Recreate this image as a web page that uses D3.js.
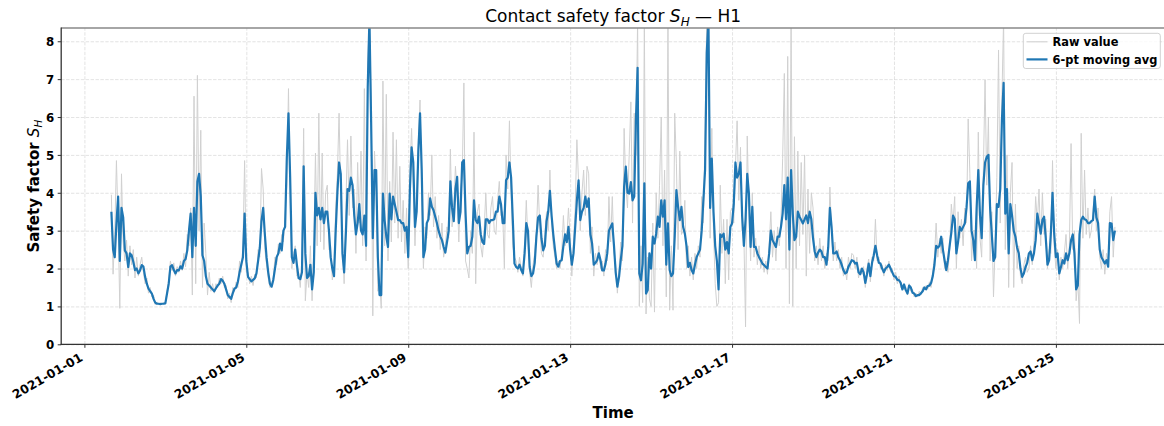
<!DOCTYPE html>
<html><head><meta charset="utf-8">
<script src="https://cdn.jsdelivr.net/npm/d3@7"></script>
<style>body{margin:0;background:#fff} svg{display:block}</style>
</head><body>
<svg id="chart" width="1164" height="426"></svg>
<script>
// ---------------- data (hourly, from 2021-01-01 16:00) ----------------
const seriesStart = "2021-01-01T16:00:00Z";
const stepHours = 1;

const rawValues = [
 3.95,1.85,2.9,4.85,3.2,0.95,4.5,2.7,
 2.2,2.75,1.8,2.6,2.1,2.5,1.75,2.3,1.8,2.1,2.3,1.9, 1.6,1.75,1.35,1.5,1.25,1.3,1.05,1.12,1.05,1.09,1.06,1.1,
 1.1,1.4,1.7,2.2,1.95,2.15,1.8,2.05,1.9,2.2,1.95,2.4, 2.05,2.9,2.6,3.6,1.3,6.55,1.6,7.1,3.0,5.65,1.5,3.2,
 2.4,1.3,1.9,1.4,1.6,1.35,1.6,1.5,1.75,1.6,1.8,1.5, 1.55,1.2,1.35,1.1,1.5,1.4,1.65,1.5,2.2,1.9,2.6,4.85,
 1.9,1.9,1.6,1.8,1.55,1.85,1.75,2.5,2.3,4.64,4.1,2.5, 2.1,1.75,1.5,1.6,1.75,2.3,2.1,2.65,2.4,2.9,2.7,3.4,
 4.2,6.75,3.8,2.0,2.4,2.6,1.8,1.9,1.5,2.3,5.7,1.15, 1.9,1.5,2.6,1.15,2.5,5.05,2.6,6.1,2.7,5.05,2.5,4.0,
 4.2,2.5,2.6,1.7,2.0,3.6,4.5,6.1,3.9,2.8,1.6,3.6, 5.4,3.4,5.5,3.6,4.1,2.4,4.8,3.2,5.1,2.6,6.75,2.2,
 7.5,8.6,6.5,0.75,5.1,4.0,1.4,1.7,0.95,6.95,2.6,6.6, 2.2,4.3,2.7,5.6,3.2,5.4,2.8,4.7,2.7,3.8,2.4,3.6,
 2.0,4.6,5.7,4.2,2.6,3.9,5.4,6.45,4.0,2.0,3.1,2.8, 4.0,3.4,5.0,3.1,3.9,2.8,3.4,2.5,3.2,2.3,2.6,3.1,
 2.8,5.15,3.1,3.6,4.7,4.0,2.7,4.1,4.4,6.9,2.2,2.0, 1.75,3.0,2.4,5.6,1.6,3.5,3.7,2.6,2.3,3.0,4.0,2.9,
 2.8,3.6,3.9,3.0,2.9,3.8,4.3,3.4,3.5,2.0,5.0,4.1, 5.9,4.0,2.6,2.3,2.2,1.9,2.3,2.0,1.8,2.6,3.8,2.7,
 1.9,1.5,2.1,2.4,3.0,4.2,3.1,2.4,2.3,2.9,3.5,3.0, 4.6,3.2,2.6,2.3,2.0,2.2,2.0,2.4,3.4,2.6,2.8,3.6,
 2.8,1.8,2.7,3.6,5.4,4.3,3.0,4.0,4.6,3.4,4.7,4.5, 2.4,3.1,1.8,2.4,2.1,2.6,2.0,2.2,1.8,2.5,2.2,3.9,
 2.7,3.9,2.4,2.1,1.35,2.0,2.7,2.2,5.7,4.2,3.6,5.0, 6.4,3.2,6.1,5.0,8.6,1.0,2.6,1.1,8.6,0.8,2.3,1.2,
 1.0,3.2,0.85,4.0,2.8,4.2,6.0,2.6,4.6,1.25,8.6,0.9, 2.6,0.9,6.1,4.78,2.5,5.1,2.9,3.0,3.8,2.0,2.6,1.8,
 2.3,1.7,2.4,2.0,2.6,2.3,3.9,3.2,5.66,8.6,8.6,2.8, 5.7,3.0,1.6,1.0,1.1,4.2,2.4,3.3,1.6,3.3,1.7,3.5,
 3.6,3.2,4.7,5.9,3.8,5.2,3.0,2.9,0.46,5.5,3.5,2.2, 4.0,2.3,2.8,2.1,2.6,2.0,2.3,1.9,2.2,1.85,2.6,3.5,
 2.3,3.0,2.2,3.1,2.6,3.3,4.9,7.15,2.0,7.6,1.07,8.6, 1.0,5.48,2.0,5.1,2.6,4.8,2.9,5.0,1.8,4.1,2.4,4.0,
 3.6,2.2,2.6,2.1,2.8,2.2,2.6,2.0,2.4,2.2,4.15,3.0, 2.2,2.7,2.2,2.5,2.0,2.3,1.8,2.0,1.7,2.3,2.0,2.4,
 2.35,2.0,2.3,1.75,2.0,1.85,2.05,1.5,2.0,2.25,1.65,2.3, 2.2,3.3,2.2,2.3,2.0,2.1,1.8,2.1,1.95,2.2,1.9,2.0,
 1.7,1.9,1.6,1.8,1.5,1.55,1.45,1.5,1.3,1.6,1.4,1.45, 1.25,1.35,1.25,1.4,1.3,1.5,1.45,1.55,1.45,1.65,1.5,1.9,
 2.3,3.2,2.3,2.8,2.4,2.8,2.0,2.2,1.9,2.5,3.7,3.2, 3.9,2.0,3.5,2.8,3.3,2.6,3.6,3.2,5.95,4.5,2.2,3.0,
 3.0,2.0,5.6,2.8,2.3,4.6,6.98,4.2,6.0,2.2,3.5,1.25, 2.6,4.4,7.77,3.2,6.5,8.6,2.5,5.0,1.5,4.0,4.8,1.5,
 3.7,2.0,2.6,1.8,1.6,2.1,2.3,1.9,2.0,2.6,2.1,2.7, 3.9,3.2,4.1,2.6,4.0,2.9,3.3,2.0,2.5,2.4,4.85,2.6,
 2.0,2.5,1.7,2.3,2.0,2.4,2.9,2.0,2.6,5.3,2.5,3.0, 1.15,1.7,0.55,5.57,2.8,4.6,2.9,3.6,2.8,3.0,3.5,4.1,
 3.0,3.6,2.3,2.0,2.5,1.85,2.4,2.2,3.5,3.9,2.3,3.1
];

const maValues = [
 3.5,2.5,2.3,3.2,3.9,2.2,3.6,3.35,
 2.48,2.4,2.04,2.4,2.35,2.18,1.96,2.0,1.87,1.95,2.09,2.05, 1.78,1.6,1.47,1.4,1.34,1.2,1.1,1.07,1.07,1.06,1.07,1.07,
 1.08,1.34,1.6,2.05,2.09,1.96,1.87,1.96,1.95,2.06,2.0,2.2, 2.25,2.48,3.0,3.45,2.3,3.6,2.6,4.3,4.5,3.9,2.35,2.2,
 1.8,1.6,1.55,1.5,1.45,1.4,1.48,1.55,1.6,1.72,1.68,1.6, 1.45,1.3,1.25,1.2,1.35,1.47,1.5,1.65,1.9,2.1,2.3,3.45,
 2.2,1.78,1.72,1.66,1.7,1.74,1.87,2.2,2.55,3.25,3.6,2.9, 2.3,1.9,1.6,1.52,1.7,2.0,2.3,2.4,2.66,2.48,3.0,3.1,
 4.9,6.1,4.4,2.3,2.15,2.5,2.1,1.75,1.72,1.9,4.7,2.4, 1.75,1.8,2.1,1.45,1.9,4.0,3.4,3.6,3.3,3.6,3.2,3.5,
 3.5,3.0,2.3,2.0,1.8,3.0,4.0,4.8,4.5,2.4,1.9,2.9, 4.1,4.05,4.4,4.2,3.4,2.9,3.2,3.7,3.0,2.9,3.4,2.6,
 6.8,8.6,5.9,2.8,4.6,4.6,2.3,1.3,1.3,3.98,3.28,2.84, 2.57,3.98,3.3,3.9,3.7,3.5,3.28,3.28,3.2,3.2,3.0,3.1,
 2.3,4.1,5.2,4.8,3.1,3.5,5.1,6.1,4.6,2.3,2.5,3.2, 3.3,3.85,3.63,3.54,3.37,3.2,3.0,2.85,2.75,2.57,2.42,2.7,
 3.0,4.3,3.6,3.25,4.1,4.42,3.2,3.5,4.8,4.86,3.45,2.4, 2.57,2.6,2.84,3.8,3.28,3.2,3.37,2.9,2.7,2.65,3.3,3.3,
 3.2,3.28,3.28,3.3,3.5,3.5,3.9,3.7,3.2,3.2,4.33,4.4, 4.8,4.4,3.3,2.13,2.04,2.0,2.1,1.96,1.87,2.4,3.2,3.0,
 2.04,1.8,1.87,2.15,2.85,3.35,3.4,2.8,2.48,2.6,3.25,3.5, 4.05,3.4,2.9,2.5,2.13,2.05,2.2,2.22,2.6,2.9,2.7,3.1,
 2.5,2.1,2.4,3.1,3.8,4.33,3.28,3.5,3.6,3.9,3.63,3.85, 2.9,2.66,2.1,2.15,2.22,2.4,2.22,1.95,1.95,2.13,2.4,3.0,
 3.1,3.19,2.6,1.9,1.52,1.78,2.22,2.6,4.16,4.69,4.0,3.98, 4.28,3.8,3.9,5.92,7.3,1.87,1.69,2.13,4.25,1.34,1.43,2.4,
 2.0,2.84,2.66,2.92,3.37,3.1,3.8,3.37,3.8,2.1,3.19,1.96, 1.8,1.87,2.84,4.07,3.63,3.28,3.63,3.1,2.92,2.6,2.04,2.15,
 1.96,1.87,2.1,2.3,2.4,2.5,3.0,3.8,4.6,7.7,8.6,3.6, 4.9,3.5,2.6,2.2,1.45,2.9,2.84,2.92,2.5,2.7,2.4,3.1,
 3.19,3.7,4.8,4.4,4.5,4.8,3.37,2.6,3.3,4.5,3.98,2.57, 3.63,2.57,2.57,2.4,2.3,2.22,2.13,2.09,2.04,2.0,2.4,3.0,
 2.75,2.66,2.57,2.84,2.84,3.1,3.45,4.2,3.3,4.4,2.5,4.6, 3.45,2.75,2.84,3.5,3.37,3.28,3.19,3.3,3.4,3.2,3.5,3.3,
 2.8,2.45,2.3,2.42,2.5,2.45,2.3,2.3,2.1,2.55,3.6,3.1, 2.4,2.4,2.45,2.3,2.22,2.1,1.96,1.87,1.9,2.05,2.13,2.22,
 2.2,2.13,2.15,1.9,1.85,2.0,1.9,1.62,1.85,2.13,1.8,2.15, 2.35,2.6,2.35,2.15,2.13,2.0,1.9,2.0,2.04,2.1,2.0,1.9,
 1.8,1.78,1.7,1.69,1.62,1.45,1.58,1.43,1.34,1.55,1.5,1.36, 1.34,1.27,1.3,1.3,1.35,1.4,1.5,1.45,1.54,1.55,1.62,1.8,
 2.1,2.6,2.55,2.6,2.84,2.5,2.22,1.96,2.22,2.6,2.95,3.4, 3.3,2.4,2.7,3.1,3.0,3.1,3.19,3.6,4.25,4.3,3.0,2.75,
 2.22,3.6,4.6,3.4,2.8,4.2,4.8,4.95,5.0,3.6,2.9,2.2, 2.3,3.7,3.63,4.1,5.92,6.9,3.45,4.1,2.4,3.7,3.4,3.0,
 2.84,2.55,2.4,2.0,1.78,1.87,2.04,2.15,2.4,2.45,2.22,2.4, 2.75,3.45,3.19,2.92,3.28,3.37,2.8,2.1,2.22,2.92,4.0,2.92,
 2.3,2.4,1.87,2.04,2.22,2.13,2.4,2.22,2.4,2.75,2.9,2.4, 1.45,1.55,2.9,3.28,3.37,3.3,3.28,3.2,3.2,3.25,3.28,3.9,
 3.35,3.2,2.5,2.3,2.22,2.13,2.22,2.05,3.2,3.19,2.75,3.0
];

const xTickLabels = ["2021-01-01","2021-01-05","2021-01-09","2021-01-13","2021-01-17","2021-01-21","2021-01-25"];
const yTickValues = [0, 1, 2, 3, 4, 5, 6, 7, 8];
const seriesNames = ["Raw value", "6-pt moving avg"];
const yMax = 8.35;

// ---------------- layout ----------------
const FONT = "'DejaVu Sans', sans-serif";
const pL = 61.2, pR = 1165.1, pT = 28, pB = 344.3;

const t0 = new Date(seriesStart).getTime();
const nPts = Math.max(rawValues.length, maValues.length);
const times = d3.range(nPts).map(i => new Date(t0 + i * stepHours * 3600e3));
const tFirst = times[0].getTime(), tLast = times[times.length - 1].getTime();
const span = tLast - tFirst;

const x = d3.scaleUtc()
  .domain([new Date(tFirst - 0.05 * span), new Date(tLast + 0.05 * span)])
  .range([pL, pR]);
const y = d3.scaleLinear().domain([0, yMax]).range([pB, pT]);

const svg = d3.select("#chart");
svg.append("rect").attr("width", 1164).attr("height", 426).attr("fill", "#fff");

svg.append("defs").append("clipPath").attr("id", "plotclip")
  .append("rect").attr("x", pL).attr("y", pT).attr("width", pR - pL).attr("height", pB - pT);

const tickDates = xTickLabels.map(s => new Date(s + "T00:00:00Z"));

// grid
const gridY = svg.append("g").attr("transform", `translate(${pL},0)`)
  .call(d3.axisLeft(y).tickValues(yTickValues).tickSize(-(pR - pL)).tickFormat(""));
const gridX = svg.append("g").attr("transform", `translate(0,${pB})`)
  .call(d3.axisBottom(x).tickValues(tickDates).tickSize(-(pB - pT)).tickFormat(""));
[gridX, gridY].forEach(g => {
  g.select(".domain").remove();
  g.selectAll("line").attr("stroke", "#b0b0b0").attr("stroke-opacity", 0.45)
    .attr("stroke-width", 0.8).attr("stroke-dasharray", "3.4,1.5");
});

// lines
const plot = svg.append("g").attr("clip-path", "url(#plotclip)");
const lineGen = vals => d3.line().x((d, i) => x(times[i])).y(d => y(d))(vals);
plot.append("path").attr("d", lineGen(rawValues))
  .attr("fill", "none").attr("stroke", "#d0d0d0").attr("stroke-width", 1.0)
  .attr("stroke-linejoin", "miter");
plot.append("path").attr("d", lineGen(maValues))
  .attr("fill", "none").attr("stroke", "#1f77b4").attr("stroke-width", 2.2)
  .attr("stroke-linejoin", "round").attr("stroke-linecap", "butt");

// spines
svg.append("line").attr("x1", pL).attr("x2", pR).attr("y1", pT).attr("y2", pT)
  .attr("stroke", "#888").attr("stroke-width", 1.3);
svg.append("line").attr("x1", pR).attr("x2", pR).attr("y1", pT).attr("y2", pB)
  .attr("stroke", "#888").attr("stroke-width", 1.3);
svg.append("line").attr("x1", pL).attr("x2", pL).attr("y1", pT - 0.6).attr("y2", pB + 0.6)
  .attr("stroke", "#333").attr("stroke-width", 1.3);
svg.append("line").attr("x1", pL - 0.6).attr("x2", pR).attr("y1", pB).attr("y2", pB)
  .attr("stroke", "#333").attr("stroke-width", 1.3);

// x axis
const xAxisG = svg.append("g").attr("transform", `translate(0,${pB})`)
  .call(d3.axisBottom(x).tickValues(tickDates).tickFormat(d3.utcFormat("%Y-%m-%d"))
    .tickSizeInner(3.5).tickSizeOuter(0).tickPadding(3.5));
xAxisG.select(".domain").remove();
xAxisG.selectAll("line").attr("stroke", "#333").attr("stroke-width", 1);
xAxisG.selectAll("text")
  .attr("x", 0).attr("y", 0).attr("dy", 0)
  .attr("transform", "translate(-1.2,15.6) rotate(-30)")
  .attr("text-anchor", "end")
  .attr("font-family", FONT).attr("font-size", 12.3).attr("font-weight", "bold").attr("fill", "#000");

// y axis
const yAxisG = svg.append("g").attr("transform", `translate(${pL},0)`)
  .call(d3.axisLeft(y).tickValues(yTickValues).tickFormat(d3.format("d"))
    .tickSizeInner(3.5).tickSizeOuter(0).tickPadding(3.5));
yAxisG.select(".domain").remove();
yAxisG.selectAll("line").attr("stroke", "#333").attr("stroke-width", 1);
yAxisG.selectAll("text").attr("font-family", FONT).attr("font-size", 11.8)
  .attr("font-weight", "bold").attr("fill", "#000").attr("dy", "0.36em");

// title
const title = svg.append("text").attr("x", (pL + pR) / 2).attr("y", 22)
  .attr("text-anchor", "middle").attr("font-family", FONT).attr("font-size", 17).attr("fill", "#000");
title.append("tspan").text("Contact safety factor ");
title.append("tspan").attr("font-style", "italic").text("S");
title.append("tspan").attr("font-style", "italic").attr("font-size", 12).attr("dy", 3.5).text("H");
title.append("tspan").attr("dy", -3.5).text(" \u2014 H1");

// x label
svg.append("text").attr("x", (pL + pR) / 2).attr("y", 417.5).attr("text-anchor", "middle")
  .attr("font-family", FONT).attr("font-size", 15).attr("font-weight", "bold").attr("fill", "#000")
  .text("Time");

// y label
const yl = svg.append("text").attr("transform", `translate(38.5,${(pT + pB) / 2}) rotate(-90)`)
  .attr("text-anchor", "middle").attr("font-family", FONT).attr("font-size", 15)
  .attr("font-weight", "bold").attr("fill", "#000");
yl.append("tspan").text("Safety factor ");
yl.append("tspan").attr("font-style", "italic").attr("font-weight", "normal").text("S");
yl.append("tspan").attr("font-style", "italic").attr("font-weight", "normal").attr("font-size", 10.5).attr("dy", 3).text("H");

// legend
const lg = svg.append("g");
lg.append("rect").attr("x", 1023.3).attr("y", 33.3).attr("width", 137).attr("height", 35.2).attr("rx", 2.5)
  .attr("fill", "#fff").attr("fill-opacity", 0.8).attr("stroke", "#cccccc").attr("stroke-width", 0.9);
const legendColors = ["#d0d0d0", "#1f77b4"];
const legendWidths = [1.1, 2.2];
seriesNames.forEach((name, i) => {
  const yy = 41.8 + i * 17.6;
  lg.append("line").attr("x1", 1026.5).attr("x2", 1047.5).attr("y1", yy).attr("y2", yy)
    .attr("stroke", legendColors[i]).attr("stroke-width", legendWidths[i]);
  lg.append("text").attr("x", 1052.6).attr("y", yy + 4.1).attr("font-family", FONT)
    .attr("font-size", 11.4).attr("font-weight", "bold").attr("fill", "#000").text(name);
});
</script>
</body></html>
